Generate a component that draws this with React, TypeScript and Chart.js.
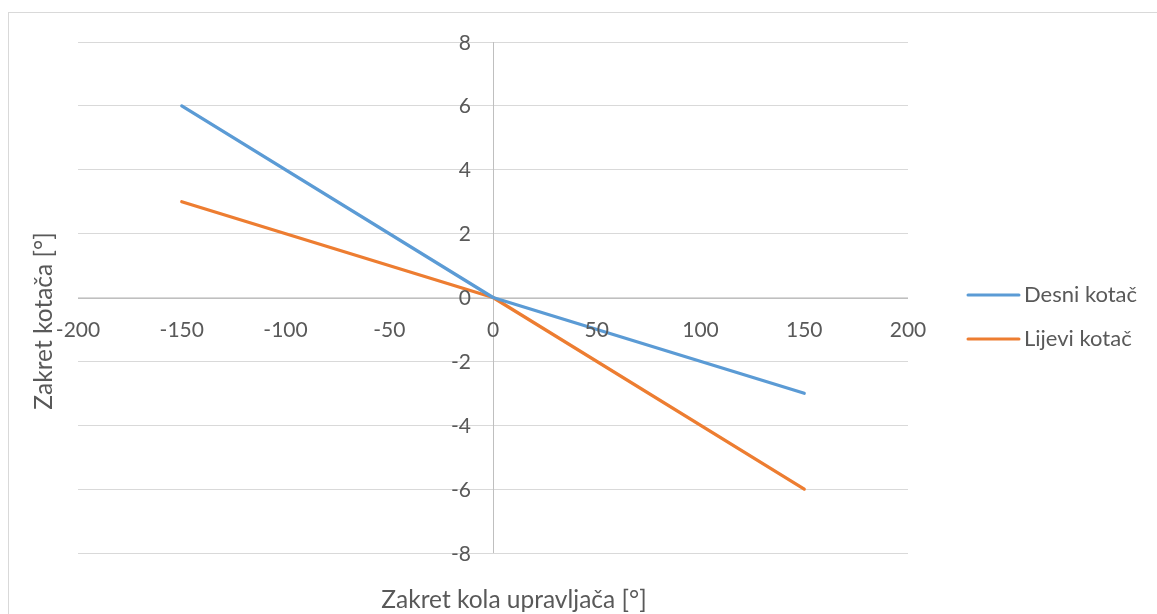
import React, { useEffect, useRef } from "react";
import { Chart, registerables } from "chart.js";

Chart.register(...registerables);

// ---- data ----
const xTickValues = [-200, -150, -100, -50, 0, 50, 100, 150, 200];
const yTickValues = [-8, -6, -4, -2, 0, 2, 4, 6, 8];
const steeringAngle = [-150, 0, 150];
const desniKotac = [6, 0, -3];
const lijeviKotac = [3, 0, -6];
const seriesNames = ["Desni kotač", "Lijevi kotač"];
const seriesColors = ["#5B9BD5", "#ED7D31"];
const xTitle = "Zakret kola upravljača [°]";
const yTitle = "Zakret kotača [°]";

const FONT = "Lato, 'Open Sans', sans-serif";
const TEXT = "#595959";

const excelPlugin = {
  id: "excelLook",
  beforeDraw(chart: any) {
    const ctx = chart.ctx;
    ctx.save();
    ctx.strokeStyle = "#d9d9d9";
    ctx.lineWidth = 1;
    ctx.strokeRect(8.5, 12.5, chart.width + 40, chart.height + 40);
    ctx.restore();
  },
  beforeDatasetsDraw(chart: any) {
    const { ctx, chartArea, scales } = chart;
    const x0 = Math.round(scales.x.getPixelForValue(0)) + 0.5;
    const y0 = Math.round(scales.y.getPixelForValue(0)) + 0.5;
    ctx.save();
    ctx.strokeStyle = "#bfbfbf";
    ctx.lineWidth = 1;
    ctx.beginPath();
    ctx.moveTo(chartArea.left, y0);
    ctx.lineTo(chartArea.right, y0);
    ctx.moveTo(x0, chartArea.top);
    ctx.lineTo(x0, chartArea.bottom);
    ctx.stroke();
    ctx.restore();
  },
  afterDatasetsDraw(chart: any) {
    const { ctx, scales } = chart;
    const xs = scales.x;
    const ys = scales.y;
    const x0 = xs.getPixelForValue(0);
    const y0 = ys.getPixelForValue(0);
    ctx.save();
    ctx.fillStyle = TEXT;
    ctx.font = `21px ${FONT}`;
    ctx.textBaseline = "alphabetic";
    ctx.textAlign = "center";
    xs.ticks.forEach((t: any) => {
      ctx.fillText(String(t.value), xs.getPixelForValue(t.value), y0 + 39);
    });
    ctx.textAlign = "right";
    ys.ticks.forEach((t: any) => {
      ctx.fillText(String(t.value), x0 - 22, ys.getPixelForValue(t.value) + 7.5);
    });
    ctx.restore();
  },
  afterDraw(chart: any) {
    const { ctx, chartArea } = chart;
    ctx.save();
    ctx.fillStyle = TEXT;
    // axis titles
    ctx.font = `24.5px ${FONT}`;
    ctx.textAlign = "center";
    ctx.textBaseline = "alphabetic";
    ctx.fillText(xTitle, (chartArea.left + chartArea.right) / 2 + 21, 608);
    ctx.save();
    ctx.translate(52, 321);
    ctx.rotate(-Math.PI / 2);
    ctx.fillText(yTitle, 0, 0);
    ctx.restore();
    // legend
    ctx.font = `22px ${FONT}`;
    ctx.textAlign = "left";
    const rows = [295, 339];
    chart.data.datasets.forEach((ds: any, i: number) => {
      const y = rows[i];
      ctx.strokeStyle = ds.borderColor;
      ctx.lineWidth = 3;
      ctx.lineCap = "round";
      ctx.beginPath();
      ctx.moveTo(968, y);
      ctx.lineTo(1019, y);
      ctx.stroke();
      ctx.fillText(ds.label, 1024, y + 7);
    });
    ctx.restore();
  },
};

export default function App() {
  const canvasRef = useRef<HTMLCanvasElement | null>(null);

  useEffect(() => {
    const canvas = canvasRef.current;
    if (!canvas) return;
    const mk = (vals: number[]) => steeringAngle.map((x, i) => ({ x, y: vals[i] }));
    const chart = new Chart(canvas, {
      type: "scatter",
      data: {
        datasets: [
          {
            label: seriesNames[0],
            data: mk(desniKotac),
            showLine: true,
            borderColor: seriesColors[0],
            backgroundColor: seriesColors[0],
            borderWidth: 3.25,
            pointRadius: 0,
            borderCapStyle: "round",
            borderJoinStyle: "round",
          },
          {
            label: seriesNames[1],
            data: mk(lijeviKotac),
            showLine: true,
            borderColor: seriesColors[1],
            backgroundColor: seriesColors[1],
            borderWidth: 3.25,
            pointRadius: 0,
            borderCapStyle: "round",
            borderJoinStyle: "round",
          },
        ],
      },
      options: {
        animation: false,
        responsive: false,
        layout: { padding: { left: 78, top: 42, right: 249, bottom: 61 } },
        plugins: { legend: { display: false }, tooltip: { enabled: false } },
        scales: {
          x: {
            type: "linear",
            min: -200,
            max: 200,
            grid: { display: false, drawTicks: false },
            border: { display: false },
            ticks: { display: false },
            afterBuildTicks: (s: any) => {
              s.ticks = xTickValues.map((v) => ({ value: v }));
            },
            afterFit: (s: any) => {
              s.height = 0;
            },
          },
          y: {
            type: "linear",
            min: -8,
            max: 8,
            grid: { color: "#d9d9d9", lineWidth: 1, drawTicks: false },
            border: { display: false },
            ticks: { display: false },
            afterBuildTicks: (s: any) => {
              s.ticks = yTickValues.map((v) => ({ value: v }));
            },
            afterFit: (s: any) => {
              s.width = 0;
            },
          },
        },
      },
      plugins: [excelPlugin],
    } as any);
    return () => chart.destroy();
  }, []);

  return (
    <div style={{ position: "absolute", left: 0, top: 0, width: 1157, height: 614, background: "#fff" }}>
      <canvas ref={canvasRef} width={1157} height={614} style={{ display: "block" }} />
    </div>
  );
}
